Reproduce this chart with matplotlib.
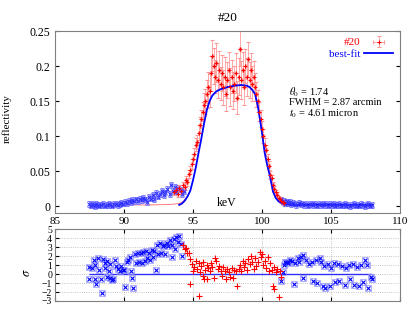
import matplotlib
matplotlib.use("Agg")
import matplotlib.pyplot as plt

plt.rcParams['font.family'] = ['Liberation Serif', 'DejaVu Serif']
plt.rcParams['mathtext.fontset'] = 'stix'

# --- datos: reflectividad (izquierda, azul) ---
E_bl = [87.5, 87.6, 87.7, 87.8, 87.9, 88.0, 88.1, 88.2, 88.35, 88.5,
        88.6, 88.75, 88.9, 89.0, 89.15, 89.3, 89.4, 89.55, 89.7, 89.8,
        89.95, 90.1, 90.2, 90.35, 90.5, 90.6, 90.75, 90.9, 91.0, 91.15,
        91.3, 91.4, 91.55, 91.7, 91.8, 91.95, 92.1, 92.2, 92.35, 92.5,
        92.6, 92.75, 92.9, 93.0, 93.15, 93.3, 93.4, 93.55, 93.7, 93.8,
        93.95, 94.1, 94.2, 94.35]
R_bl = [0.003, 0.001, 0.004, 0.002, 0.000, 0.003, 0.002, 0.001, 0.002, 0.003,
        0.001, 0.002, 0.004, 0.002, 0.001, 0.003, 0.004, 0.002, 0.003, 0.005,
        0.004, 0.006, 0.005, 0.008, 0.006, 0.009, 0.007, 0.010, 0.008, 0.011,
        0.009, 0.012, 0.010, 0.006, 0.013, 0.011, 0.016, 0.010, 0.019, 0.014,
        0.018, 0.022, 0.016, 0.020, 0.025, 0.018, 0.030, 0.022, 0.028, 0.020,
        0.026, 0.024, 0.018, 0.022]

# --- datos: reflectividad (centro, rojo) ---
E_r = [93.6, 93.75, 93.9, 94.0, 94.15, 94.3, 94.4,
       94.5, 94.6, 94.7, 94.8, 94.9, 95.0, 95.1, 95.2, 95.3, 95.4,
       95.5, 95.6, 95.7, 95.8, 95.9, 96.0, 96.1, 96.2, 96.3, 96.4,
       96.5, 96.6, 96.7, 96.8, 96.9, 97.0, 97.1, 97.2, 97.3, 97.4,
       97.5, 97.6, 97.7, 97.8, 97.9, 98.0, 98.1, 98.2, 98.3, 98.4,
       98.5, 98.6, 98.7, 98.8, 98.9, 99.0, 99.1, 99.2, 99.3, 99.4,
       99.5, 99.6, 99.7, 99.8, 99.9, 100.0, 100.1, 100.2, 100.3, 100.4,
       100.5, 100.6, 100.7, 100.8, 100.9, 101.0, 101.1, 101.2, 101.3, 101.4,
       101.5, 101.6]
R_r = [0.020, 0.024, 0.018, 0.026, 0.022, 0.030, 0.028,
       0.038, 0.034, 0.046, 0.052, 0.060, 0.068, 0.075, 0.088, 0.092, 0.105,
       0.116, 0.125, 0.135, 0.145, 0.150, 0.160, 0.170, 0.165, 0.190, 0.215,
       0.200, 0.185, 0.205, 0.180, 0.195, 0.175, 0.190, 0.170, 0.185, 0.160,
       0.180, 0.195, 0.170, 0.185, 0.165, 0.175, 0.190, 0.155, 0.185, 0.225,
       0.180, 0.195, 0.170, 0.200, 0.185, 0.210, 0.180, 0.195, 0.175, 0.185,
       0.170, 0.160, 0.150, 0.135, 0.125, 0.110, 0.100, 0.088, 0.080, 0.068,
       0.058, 0.045, 0.040, 0.030, 0.025, 0.020, 0.016, 0.012, 0.010, 0.008,
       0.006, 0.005]
err_r = [0.004, 0.004, 0.004, 0.004, 0.004, 0.004, 0.004,
         0.005, 0.005, 0.006, 0.006, 0.007, 0.007, 0.008, 0.009, 0.010, 0.011,
         0.012, 0.013, 0.014, 0.016, 0.018, 0.020, 0.022, 0.024, 0.025, 0.022,
         0.026, 0.024, 0.028, 0.025, 0.027, 0.024, 0.026, 0.025, 0.028, 0.024,
         0.026, 0.025, 0.027, 0.024, 0.026, 0.025, 0.028, 0.024, 0.026, 0.025,
         0.027, 0.025, 0.026, 0.024, 0.027, 0.025, 0.026, 0.024, 0.025, 0.022,
         0.020, 0.018, 0.016, 0.014, 0.012, 0.011, 0.010, 0.009, 0.008, 0.007,
         0.006, 0.006, 0.005, 0.005, 0.004, 0.004, 0.004, 0.003, 0.003, 0.003,
         0.003, 0.003]

# --- datos: reflectividad (derecha, azul) ---
E_br = [101.4, 101.5, 101.6, 101.7, 101.8, 101.9, 102.0, 102.1, 102.25, 102.4,
        102.5, 102.65, 102.8, 102.9, 103.05, 103.2, 103.3, 103.45, 103.6, 103.7,
        103.85, 104.0, 104.1, 104.25, 104.4, 104.5, 104.65, 104.8, 104.9, 105.05,
        105.2, 105.3, 105.45, 105.6, 105.7, 105.85, 106.0, 106.1, 106.25, 106.4,
        106.5, 106.65, 106.8, 106.9, 107.05, 107.2, 107.3, 107.45, 107.6, 107.7,
        107.85, 108.0]
R_br = [0.010, 0.006, 0.008, 0.004, 0.007, 0.005, 0.006, 0.003, 0.005, 0.004,
        0.002, 0.005, 0.003, 0.004, 0.002, 0.004, 0.001, 0.003, 0.004, 0.002,
        0.003, 0.001, 0.004, 0.002, 0.003, 0.002, 0.004, 0.001, 0.003, 0.002,
        0.003, 0.001, 0.002, 0.003, 0.001, 0.002, 0.003, 0.001, 0.002, 0.000,
        0.002, 0.003, 0.001, 0.002, 0.001, 0.003, 0.002, 0.000, 0.002, 0.004,
        0.001, 0.002]

# --- mejor ajuste ---
E_fit = [94.0, 94.2, 94.4, 94.6, 94.8, 95.0, 95.2, 95.4, 95.6, 95.8,
         96.0, 96.2, 96.4, 96.7, 97.0, 97.5, 98.0, 98.5, 98.9, 99.1,
         99.3, 99.5, 99.7, 99.86, 100.0, 100.2, 100.4, 100.58, 100.8, 101.0,
         101.2, 101.5, 101.8, 102.2, 103.0, 105.0, 108.0]
R_fit = [0.002, 0.004, 0.008, 0.014, 0.022, 0.037, 0.055, 0.076, 0.096, 0.118,
         0.137, 0.150, 0.158, 0.164, 0.167, 0.170, 0.172, 0.173, 0.172, 0.170,
         0.166, 0.160, 0.143, 0.123, 0.105, 0.076, 0.057, 0.043, 0.021, 0.012,
         0.007, 0.004, 0.003, 0.002, 0.002, 0.002, 0.002]
E_rfit = [87.5, 89.0, 90.5, 92.0, 93.0, 93.5, 94.0, 94.3, 94.6]
R_rfit = [0.002, 0.002, 0.002, 0.002, 0.0025, 0.003, 0.004, 0.007, 0.014]

# --- residuos ---
E_res_bl = [87.5, 87.5, 87.65, 87.8, 87.9, 87.9, 88.0, 88.1, 88.2, 88.3,
            88.4, 88.5, 88.6, 88.6, 88.75, 88.8, 88.9, 89.0, 89.0, 89.1,
            89.2, 89.35, 89.45, 89.6, 89.7, 89.8, 89.9, 90.0, 90.05, 90.2,
            90.3, 90.4, 90.5, 90.55, 90.65, 90.8, 90.9, 91.0, 91.1, 91.2,
            91.3, 91.4, 91.5, 91.6, 91.7, 91.8, 91.9, 92.0, 92.1, 92.2,
            92.35, 92.4, 92.5, 92.6, 92.7, 92.8, 92.9, 93.0, 93.1, 93.2,
            93.35, 93.45, 93.5, 93.6, 93.7, 93.8, 93.9, 94.0, 94.1, 94.2]
S_res_bl = [0.8, -0.6, 0.7, 1.6, 1.0, -0.5, -1.1, 1.8, 0.5, -0.6,
            -2.1, 1.7, 0.7, 1.2, 1.5, -0.3, 0.4, 1.1, -0.4, -0.7,
            -0.5, 1.6, 0.9, 0.6, 0.4, 0.9, 0.5, 0.5, -1.4, 1.3,
            1.6, 1.9, 0.4, -0.4, -1.5, 2.2, 1.2, 2.3, 1.4, 2.4,
            1.2, 2.5, 1.5, 2.6, 1.8, 2.4, 1.6, 2.7, 1.9, 2.6,
            0.5, 3.3, 2.2, 3.5, 2.3, 3.1, 3.3, 2.2, 3.5, 3.1,
            3.8, 1.9, 3.3, 3.9, 2.8, 4.1, 3.6, 4.2, 3.4, 2.0]
E_res_r = [94.3, 94.4, 94.5, 94.6, 94.7, 94.8, 94.8, 94.9, 95.0, 95.1,
           95.2, 95.3, 95.4, 95.45, 95.5, 95.6, 95.7, 95.75, 95.8, 95.9,
           96.0, 96.05, 96.1, 96.2, 96.3, 96.4, 96.5, 96.6, 96.7, 96.8,
           96.9, 97.0, 97.1, 97.2, 97.3, 97.4, 97.5, 97.6, 97.7, 97.8,
           97.9, 98.0, 98.1, 98.2, 98.3, 98.4, 98.5, 98.6, 98.7, 98.8,
           98.9, 99.0, 99.1, 99.2, 99.3, 99.4, 99.5, 99.6, 99.7, 99.85,
           99.9, 100.0, 100.1, 100.2, 100.3, 100.4, 100.5, 100.6, 100.7, 100.8,
           100.85, 100.9, 101.0, 101.1, 101.2, 101.3, 101.4]
S_res_r = [3.2, 2.8, 2.9, 2.3, 2.4, 1.7, -1.1, 1.1, 0.4, 0.8,
           1.5, 0.6, -2.4, 1.2, 0.2, 0.9, -0.2, 1.3, -0.6, 0.5,
           1.0, -0.6, 0.7, 0.4, 1.2, 0.8, -0.4, 1.8, 1.5, 0.6,
           0.9, 0.3, -0.2, 0.8, 0.4, -0.5, 0.6, 0.2, -0.3, 0.7,
           -0.4, 0.5, 0.3, -1.3, 0.6, 1.0, 0.3, 1.5, 0.8, 1.2,
           0.5, 1.7, 1.1, 2.0, 1.4, 0.6, 1.8, 0.9, 1.3, 2.5,
           1.9, 2.2, 1.0, 1.5, 0.7, 1.9, 0.3, 1.2, 0.5, -1.3,
           -1.7, 0.8, 0.2, 0.6, -2.6, 0.4, -0.3]
E_res_br = [101.4, 101.5, 101.6, 101.7, 101.8, 101.9, 102.0, 102.2, 102.3, 102.4,
            102.6, 102.7, 102.8, 103.0, 103.0, 103.2, 103.4, 103.6, 103.7, 103.9,
            104.0, 104.2, 104.3, 104.4, 104.5, 104.6, 104.8, 104.9, 105.0, 105.2,
            105.3, 105.5, 105.6, 105.8, 106.0, 106.1, 106.3, 106.4, 106.6, 106.7,
            106.9, 107.0, 107.2, 107.3, 107.5, 107.6, 107.7, 107.9, 108.0]
S_res_br = [-0.8, 0.2, 1.0, 1.3, 1.4, 1.2, 1.6, 1.5, -1.1, 1.2,
            1.8, 1.4, 1.9, 2.1, -0.4, 1.6, 1.1, 1.3, -0.8, 1.6,
            -1.0, 1.8, 1.3, -1.3, 0.9, -1.5, 1.1, -1.3, 0.7, 1.2,
            -0.9, 1.1, -0.8, 0.9, -1.2, 0.7, 1.0, -0.6, 1.1, -1.2,
            0.8, -1.3, 1.0, -0.9, 1.6, 1.0, -1.5, -0.3, -0.6]

rojo = '#ff0000'
azul = '#0000ff'

fig = plt.figure(figsize=(4.15, 3.12), dpi=100)
ax = fig.add_axes([0.1325, 0.3173, 0.8313, 0.5833])
ax2 = fig.add_axes([0.1325, 0.0353, 0.8313, 0.2298])

# panel superior
ax.plot(E_rfit, R_rfit, color=rojo, lw=0.6, alpha=0.6)
ax.errorbar(E_bl, R_bl, yerr=0.004, xerr=0.06, fmt='x', color='#3030ff', ms=2.5,
            mew=0.7, ecolor='#8080ff', elinewidth=0.6, capsize=1.5)
ax.errorbar(E_br, R_br, yerr=0.004, xerr=0.06, fmt='x', color='#3030ff', ms=2.5,
            mew=0.7, ecolor='#8080ff', elinewidth=0.6, capsize=1.5)
h_datos = ax.errorbar(E_r, R_r, yerr=err_r, xerr=0.05, fmt='+', color=rojo,
                      ms=3, mew=0.8, ecolor='#ff9999', elinewidth=0.6,
                      capsize=1.5, label='#20')
h_fit, = ax.plot(E_fit, R_fit, color=azul, lw=1.3, label='best-fit')

ax.set_xlim(85, 110)
ax.set_ylim(-0.0095, 0.25)
ax.set_yticks([0, 0.05, 0.1, 0.15, 0.2, 0.25])
ax.set_yticklabels(['0', '0.05', '0.1', '0.15', '0.2', '0.25'])
ax.set_xticks([90, 95, 100, 105])
ax.tick_params(axis='x', labelbottom=False, direction='in', length=3)
ax.tick_params(axis='y', direction='in', length=3, right=True, labelsize=8.5)
ax.set_title('#20', fontsize=9.5, pad=7)
ax.set_ylabel('reflectivity', fontsize=8)
ax.yaxis.set_label_coords(-0.125, 0.52)
ax.text(97.45, 0.005, 'keV', fontsize=8.5, ha='center', va='center')
ax.text(101.95, 0.1625, r'$\theta_0$ = 1.74', fontsize=7.5, va='center')
ax.text(101.95, 0.1475, 'FWHM = 2.87 arcmin', fontsize=7.5, va='center')
ax.text(101.95, 0.1325, r'$t_0$ = 4.61 micron', fontsize=7.5, va='center')
leg = ax.legend(handles=[h_datos, h_fit], loc='upper right', frameon=False,
                markerfirst=False, fontsize=8, handlelength=2.6,
                borderaxespad=0.2, labelspacing=0.15, handletextpad=0.4)
for txt, c in zip(leg.get_texts(), [rojo, azul]):
    txt.set_color(c)
for s in ax.spines.values():
    s.set_color('#808080')

# panel de residuos
ax2.grid(True, color='#b0b0b0', ls=':', lw=0.6)
ax2.hlines(0, E_res_bl[0], E_res_br[-1], color=azul, lw=1.0, alpha=0.8)
ax2.plot(E_res_bl, S_res_bl, 's', mfc='none', mec='#9090ff', ms=4, mew=0.5)
ax2.plot(E_res_bl, S_res_bl, 'x', color=azul, ms=3, mew=0.8)
ax2.plot(E_res_br, S_res_br, 's', mfc='none', mec='#9090ff', ms=4, mew=0.5)
ax2.plot(E_res_br, S_res_br, 'x', color=azul, ms=3, mew=0.8)
ax2.plot(E_res_r, S_res_r, '+', color=rojo, ms=4, mew=0.8)
ax2.set_xlim(85, 110)
ax2.set_ylim(-3, 5)
ax2.set_yticks(range(-3, 6))
ax2.set_xticks([85, 90, 95, 100, 105, 110])
ax2.xaxis.tick_top()
ax2.tick_params(axis='x', direction='in', length=3, labelsize=8, pad=2.5,
                bottom=True)
ax2.tick_params(axis='y', direction='in', length=3, labelsize=7, pad=2)
ax2.set_ylabel(r'$\sigma$', fontsize=9, rotation=90)
ax2.yaxis.set_label_coords(-0.065, 0.4)
for s in ax2.spines.values():
    s.set_color('#808080')

plt.savefig('out.png', dpi=100)
